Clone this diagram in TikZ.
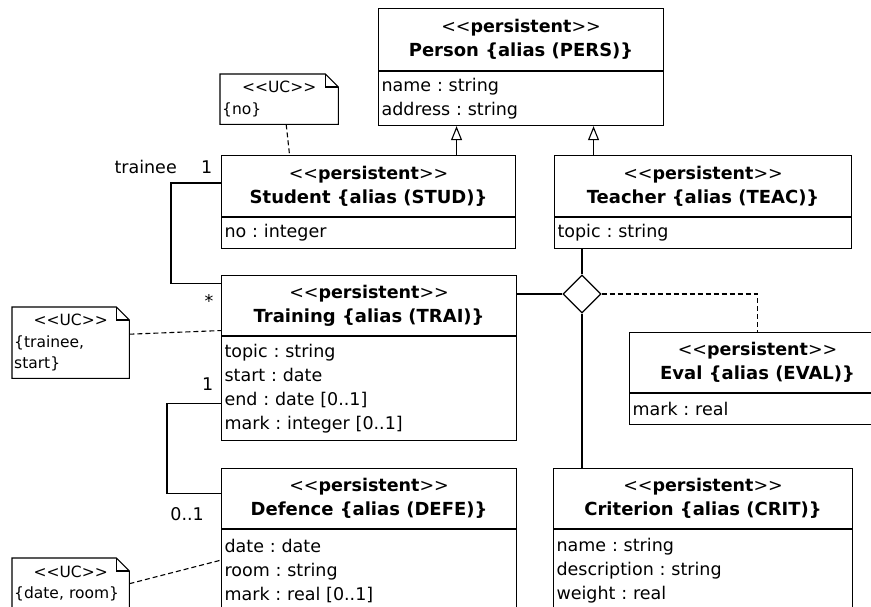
\documentclass[tikz,border=0pt]{standalone}
\usepackage{fontspec}
\setmainfont{DejaVu Sans}
\usetikzlibrary{positioning,shapes.geometric,arrows.meta}

\frenchspacing
\newcommand{\boxfont}{\fontsize{17.5}{24}\selectfont}
\newcommand{\namefont}{\fontsize{18}{25}\selectfont\bfseries}
\newcommand{\notefont}{\fontsize{15.5}{21.5}\selectfont}
\newcommand{\opensq}{<\kern0pt<}
\newcommand{\closesq}{>\kern0pt>}
\newcommand{\stereo}[1]{\opensq\textbf{#1}\closesq}
% outline of a note with its folded corner
\newcommand{\notefold}[1]{%
  \draw[line width=1.1pt] (#1.north west) -- ([xshift=-13pt]#1.north east)
    -- ([yshift=-13pt]#1.north east) -- (#1.south east) -- (#1.south west) -- cycle;
  \draw[line width=1.1pt] ([xshift=-13pt]#1.north east) |- ([yshift=-13pt]#1.north east);}

\tikzset{
  classhead/.style={draw, line width=1.1pt, anchor=north west, align=center,
    inner sep=0pt, font=\boxfont},
  classbody/.style={draw, line width=1.1pt, anchor=north west, align=left,
    inner xsep=3pt, inner ysep=0pt, font=\boxfont},
  ucnote/.style={anchor=north west, align=left, inner xsep=2pt, inner ysep=0pt,
    font=\notefont},
  assoc/.style={line width=1.1pt},
  inherit/.style={line width=1.1pt, -{Triangle[open,width=11pt,length=14pt]}},
  noteline/.style={line width=1.1pt, dash pattern=on 5pt off 3pt},
  mult/.style={font=\boxfont, inner sep=0pt},
}

\begin{document}
\begin{tikzpicture}[x=1pt,y=-1pt]
    \useasboundingbox (0,0) rectangle (871,607);
    \clip (0,0) rectangle (871,607);

    % classes
    \node[classhead, minimum width=285pt, minimum height=62pt] (pershead) at (378,8)
        {\stereo{persistent}\\{\namefont Person \{alias (PERS)\}}};
    \node[classbody, text width=279pt, minimum height=54pt] (persbody) at (pershead.south west)
        {name : string\\address : string};

    \node[classhead, minimum width=294pt, minimum height=61pt] (studhead) at (221,155)
        {\stereo{persistent}\\{\namefont Student \{alias (STUD)\}}};
    \node[classbody, text width=288pt, minimum height=31pt] (studbody) at (studhead.south west)
        {no : integer};

    \node[classhead, minimum width=297pt, minimum height=61pt] (teachead) at (554,155)
        {\stereo{persistent}\\{\namefont Teacher \{alias (TEAC)\}}};
    \node[classbody, text width=291pt, minimum height=31pt] (teacbody) at (teachead.south west)
        {topic : string};

    \node[classhead, minimum width=295pt, minimum height=60pt] (trainhead) at (221,275)
        {\stereo{persistent}\\{\namefont Training \{alias (TRAI)\}}};
    \node[classbody, text width=289pt, minimum height=104pt] (trainbody) at (trainhead.south west)
        {topic : string\\start : date\\end : date [0..1]\\mark : integer [0..1]};

    \node[classhead, minimum width=256pt, minimum height=60pt] (evalhead) at (629,332)
        {\stereo{persistent}\\{\namefont Eval \{alias (EVAL)\}}};
    \node[classbody, text width=250pt, minimum height=31pt] (evalbody) at (evalhead.south west)
        {mark : real};

    \node[classhead, minimum width=295pt, minimum height=60pt] (defhead) at (221,468)
        {\stereo{persistent}\\{\namefont Defence \{alias (DEFE)\}}};
    \node[classbody, text width=289pt, minimum height=82pt] (defbody) at (defhead.south west)
        {date : date\\room : string\\mark : real [0..1]};

    \node[classhead, minimum width=299pt, minimum height=60pt] (crithead) at (553,468)
        {\stereo{persistent}\\{\namefont Criterion \{alias (CRIT)\}}};
    \node[classbody, text width=293pt, minimum height=82pt] (critbody) at (crithead.south west)
        {name : string\\description : string\\weight : real};

    % notes
    \node[ucnote, text width=114pt, minimum height=50pt] (note1) at (220,74)
        {\makebox[\linewidth]{\opensq UC\closesq}\\\{no\}};
    \notefold{note1}
    \node[ucnote, text width=113pt, minimum height=71pt] (note2) at (12,307)
        {\makebox[\linewidth]{\opensq UC\closesq}\\\{trainee,\\start\}};
    \notefold{note2}
    \node[ucnote, text width=113pt, minimum height=51pt] (note3) at (12,558)
        {\makebox[\linewidth]{\opensq UC\closesq}\\\{date, room\}};
    \notefold{note3}

    % generalisations
    \draw[inherit] ([xshift=88pt]studhead.north) -- ([xshift=88pt]studhead.north |- persbody.south);
    \draw[inherit] ([xshift=-109.5pt]teachead.north) -- ([xshift=-109.5pt]teachead.north |- persbody.south);

    % associations
    \coordinate (studout) at ([yshift=3pt]studhead.west);
    \coordinate (trainin) at ([yshift=22pt]trainhead.west);
    \draw[assoc] (studout) -- ++(-50,0) |- (trainin);
    \node[mult, above left=9.5pt and 8.5pt of studout] (m1) {1};
    \node[mult, left=24pt of m1] (role1) {trainee};
    \node[mult, below left=11pt and 7.5pt of trainin] (m2) {*};

    \coordinate (trainout) at ([yshift=-15pt]trainbody.west);
    \coordinate (defin) at ([yshift=5pt]defhead.west);
    \draw[assoc] (trainout) -- ++(-54,0) |- (defin);
    \node[mult, above left=12.5pt and 7.5pt of trainout] (m3) {1};
    \node[mult, below left=13.5pt and 17pt of defin] (m4) {0..1};

    % ternary association
    \node[draw, diamond, line width=1.1pt, minimum width=38pt, minimum height=38pt, inner sep=0pt] (tern) at (582,294) {};
    \draw[assoc] (tern.north) -- (tern.north |- teacbody.south);
    \draw[assoc] (tern.south) -- (tern.south |- crithead.north);
    \draw[assoc] (tern.west) -- (tern.west -| trainhead.east);
    \draw[noteline] (tern.east) -| (evalhead.north);

    % note anchors
    \draw[noteline] ([xshift=7pt]note1.south) -- ([xshift=-79pt]studhead.north);
    \draw[noteline] ([yshift=8.5pt]note2.east) -- ([yshift=-25pt]trainhead.west);
    \draw[noteline] (note3.east) -- ([yshift=-31pt]defhead.south west);
\end{tikzpicture}
\end{document}
